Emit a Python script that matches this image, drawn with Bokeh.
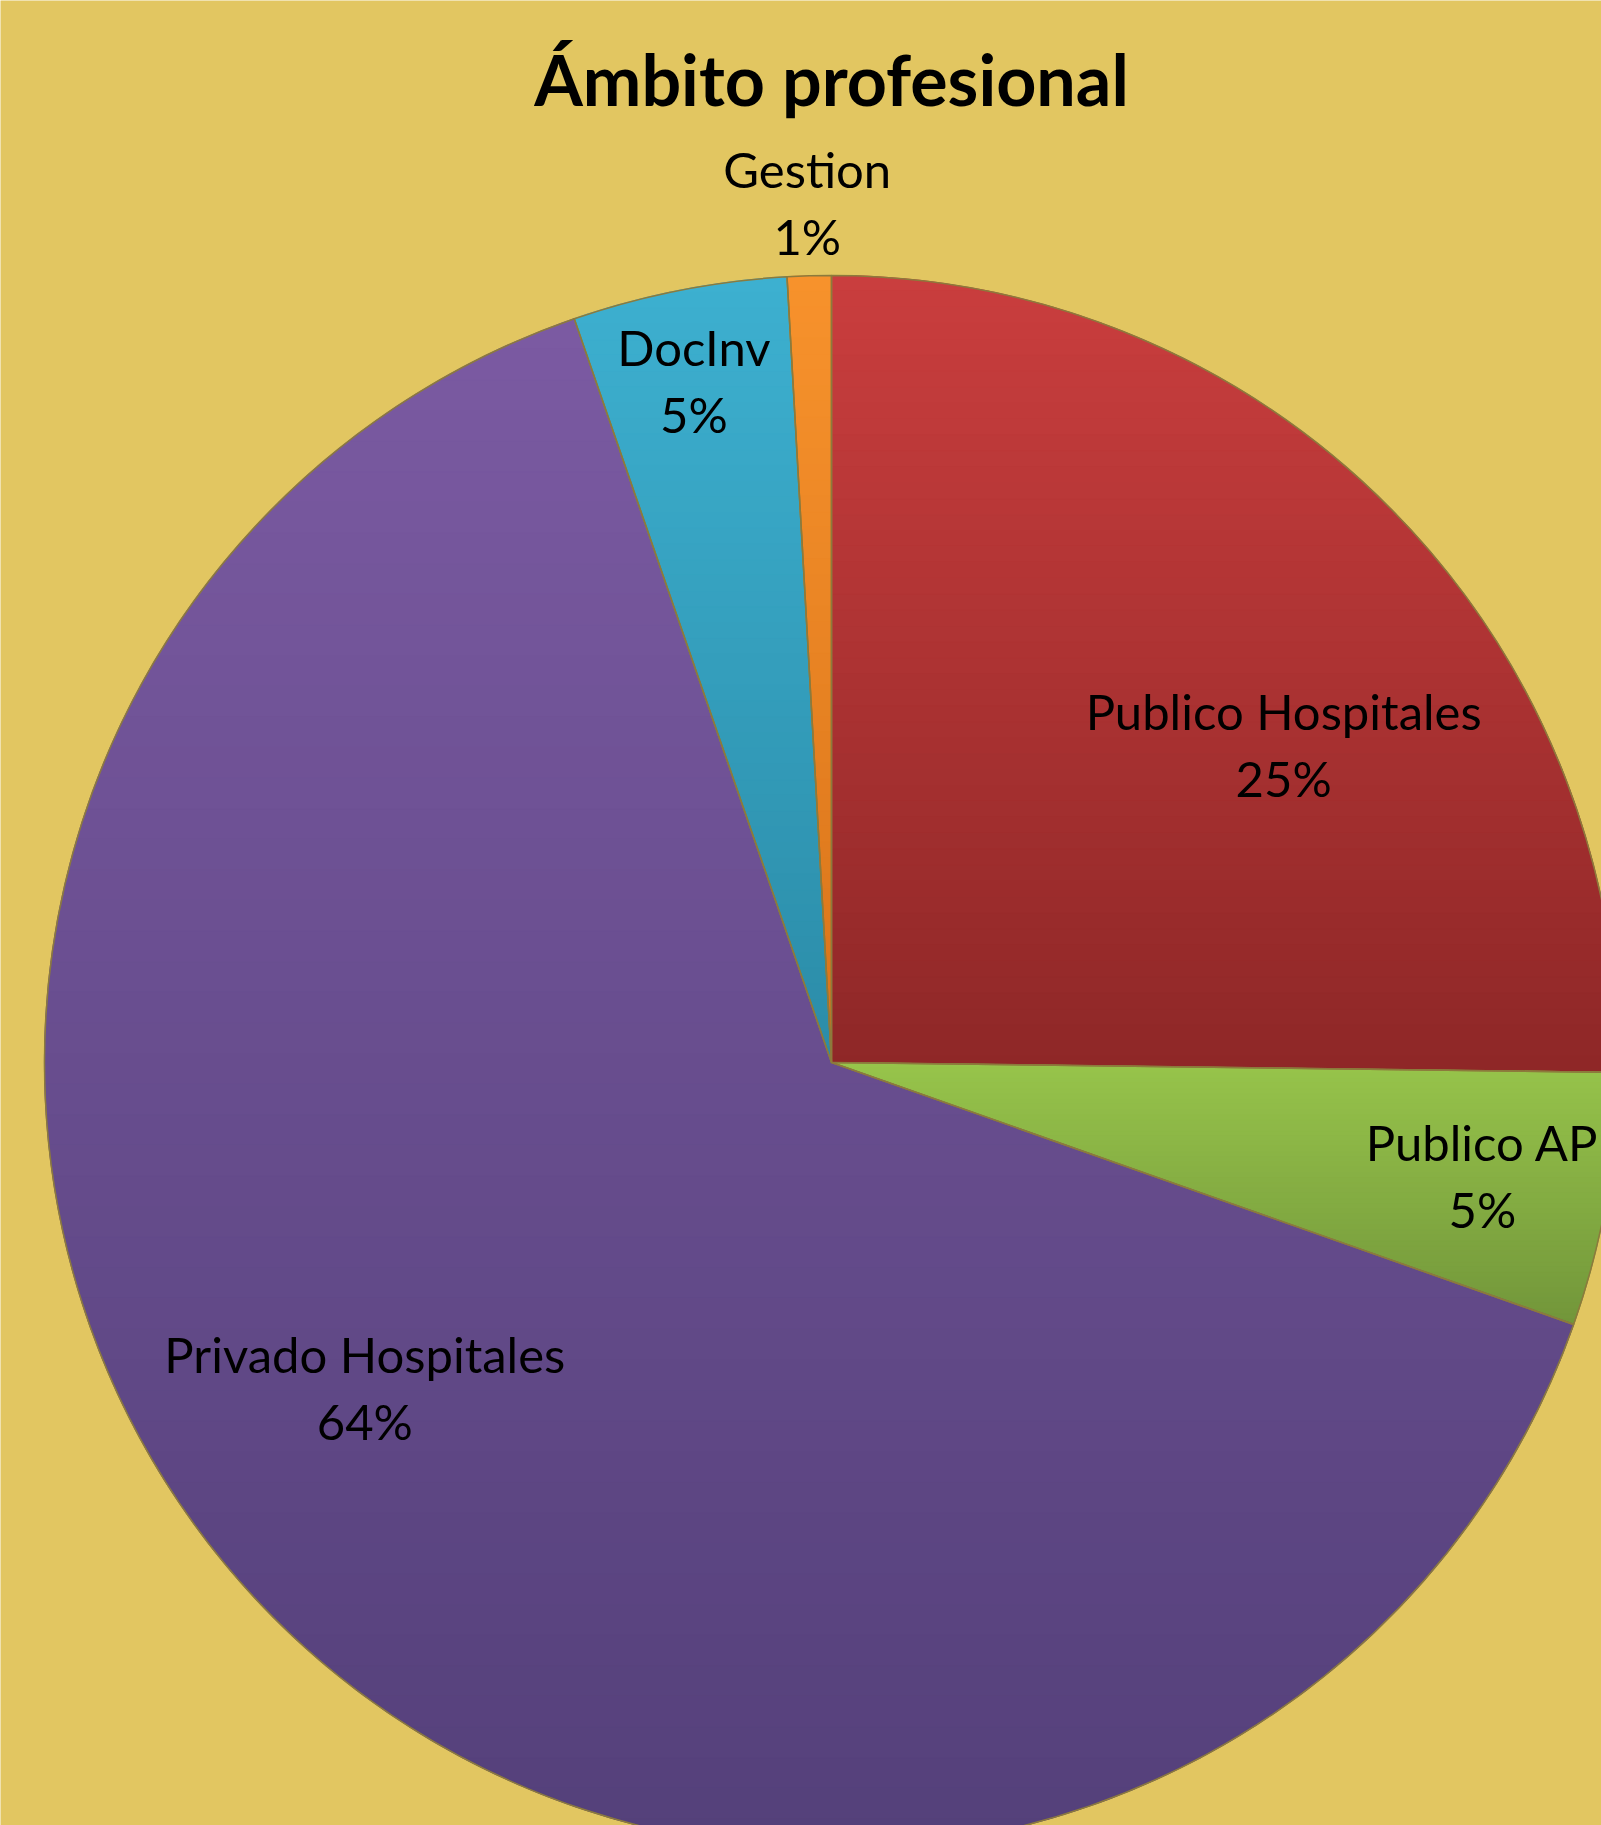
import numpy as np
from bokeh.plotting import figure
from bokeh.models import Range1d
from bokeh.core.properties import value
from bokeh.embed import file_html
from bokeh.resources import INLINE

# ---- data ----
title_text = "Ámbito profesional"
categories = ["Publico Hospitales", "Publico AP", "Privado Hospitales", "DocInv", "Gestion"]
values = [25.2, 5.2, 64.3, 4.4, 0.9]
pct_labels = ["25%", "5%", "64%", "5%", "1%"]

# ---- styles / layout ----
top_colors = ["#CA3E3E", "#97C44B", "#7B5AA2", "#3DB0D0", "#F7922C"]
bottom_colors = ["#8E2727", "#72963A", "#54407A", "#2B8CA8", "#D9741A"]
label_r_frac = [0.70, 0.84, 0.725, 0.88, 1.09]
label_angle_offset = [-9.8, 0.0, -9.7, 0.3, 0.0]

W, H = 1601, 1825
CX, CY, R = 831, H - 1062, 787
BG = "#E2C661"
FONT = "Lato"

p = figure(width=W, height=H, x_range=Range1d(0, W), y_range=Range1d(0, H),
           output_backend="svg", toolbar_location=None, min_border=0)
p.axis.visible = False
p.grid.visible = False
p.outline_line_color = None
p.background_fill_color = BG
p.border_fill_color = BG

vals = np.array(values, dtype=float)
frac = vals / vals.sum()
cum = np.concatenate([[0.0], np.cumsum(frac)])
starts = np.pi / 2 - 2 * np.pi * cum[:-1]
ends = np.pi / 2 - 2 * np.pi * cum[1:]


def hex2rgb(h):
    h = h.lstrip("#")
    return np.array([int(h[i:i + 2], 16) for i in (0, 2, 4)], dtype=float)


def rgb2hex(c):
    c = np.clip(np.round(c), 0, 255).astype(int)
    return "#%02x%02x%02x" % tuple(c)


def clip_half(poly, yv, keep_above):
    out = []
    n = len(poly)
    for i in range(n):
        a = poly[i]
        b = poly[(i + 1) % n]
        ina = a[1] >= yv if keep_above else a[1] <= yv
        inb = b[1] >= yv if keep_above else b[1] <= yv
        if ina:
            out.append(a)
        if ina != inb:
            t = (yv - a[1]) / (b[1] - a[1])
            out.append((a[0] + t * (b[0] - a[0]), yv))
    return out


# base wedges (middle colour)
mid_colors = [rgb2hex((hex2rgb(a) + hex2rgb(b)) / 2) for a, b in zip(top_colors, bottom_colors)]
p.wedge(x=[CX] * len(vals), y=[CY] * len(vals), radius=R, start_angle=starts, end_angle=ends,
        direction="clock", fill_color=mid_colors, line_color=None)

# vertical gradient bands for each slice (gradient over each slice's own height)
nb = 50
xs, ys, cols = [], [], []
for i in range(len(vals)):
    n_arc = max(8, int(abs(ends[i] - starts[i]) / (2 * np.pi) * 400))
    th = np.linspace(starts[i], ends[i], n_arc)
    poly = [(CX, CY)] + [(CX + R * np.cos(t), CY + R * np.sin(t)) for t in th]
    ytop = max(pt[1] for pt in poly)
    ybot = min(pt[1] for pt in poly)
    edges = np.linspace(ytop, ybot, nb + 1)
    c0, c1 = hex2rgb(top_colors[i]), hex2rgb(bottom_colors[i])
    for k in range(nb):
        ya, yb = edges[k + 1], edges[k]
        q = clip_half(poly, ya, True)
        if len(q) < 3:
            continue
        q = clip_half(q, yb, False)
        if len(q) < 3:
            continue
        tt = (k + 0.5) / nb
        xs.append([pt[0] for pt in q])
        ys.append([pt[1] for pt in q])
        cols.append(rgb2hex(c0 + (c1 - c0) * tt))
p.patches(xs=xs, ys=ys, fill_color=cols, line_color=cols, line_width=1.2)

# slice borders
p.wedge(x=[CX] * len(vals), y=[CY] * len(vals), radius=R, start_angle=starts, end_angle=ends,
        direction="clock", fill_alpha=0, line_color="#8C7A3C", line_width=1.5)

# labels
mids = (starts + ends) / 2 + np.radians(label_angle_offset)
lx = CX + np.array(label_r_frac) * R * np.cos(mids)
ly = CY + np.array(label_r_frac) * R * np.sin(mids)
p.text(x=lx, y=ly + 36.5, text=categories, text_font=value(FONT), text_font_size="49px",
       text_align="center", text_baseline="alphabetic", text_color="#000000")
p.text(x=lx, y=ly - 30.5, text=pct_labels, text_font=value(FONT), text_font_size="49px",
       text_align="center", text_baseline="alphabetic", text_color="#000000")

# title
p.text(x=[CX], y=[H - 78], text=[title_text], text_font=value(FONT), text_font_size="70px",
       text_font_style="bold", text_align="center", text_baseline="alphabetic", text_color="#000000")

open("out.html", "w").write(file_html(p, INLINE))
